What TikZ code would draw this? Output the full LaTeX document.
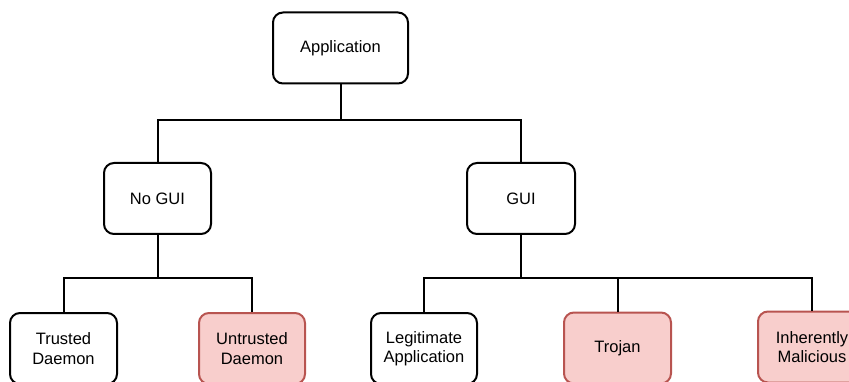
\documentclass[tikz,border=0pt]{standalone}
\usepackage{fontspec}
\setmainfont{Liberation Sans}
\definecolor{redfill}{HTML}{F8CECC}
\definecolor{redline}{HTML}{B85450}
\begin{document}
\begin{tikzpicture}[x=1pt,y=-1pt,
  box/.style={draw=black,fill=white,line width=2pt,rounded corners=10pt,
    minimum height=71pt,align=center,inner sep=2pt,
    font=\fontsize{16.5}{19.5}\selectfont},
  badbox/.style={box,draw=redline,fill=redfill},
  link/.style={draw=black,line width=2pt}]
\useasboundingbox (0,0) rectangle (849,382);
% tree nodes
\node[box,minimum width=135pt] (app) at (340.5,48) {Application};
\node[box,minimum width=107pt] (nogui) at (157.5,198.5) {No GUI};
\node[box,minimum width=108pt] (gui) at (521,198.5) {GUI};
\node[box,minimum width=107pt] (trusted) at (63.5,348.5) {Trusted\\Daemon};
\node[badbox,minimum width=106pt] (untrusted) at (252,348.5) {Untrusted\\Daemon};
\node[box,minimum width=106pt] (legit) at (424,348.5) {Legitimate\\Application};
\node[badbox,minimum width=107pt] (trojan) at (617.5,348) {Trojan};
\node[badbox,minimum width=108pt] (malicious) at (812,347) {Inherently\\Malicious};
% levels of the horizontal bars
\coordinate (bar1) at (0,120);
\coordinate (bar2) at (0,278);
% connectors
\draw[link] (app.south) -- (app.south |- bar1);
\draw[link] (nogui.north) |- (gui.north |- bar1) -- (gui.north);
\draw[link] (nogui.south) -- (nogui.south |- bar2);
\draw[link] (trusted.north) |- (untrusted.north |- bar2) -- (untrusted.north);
\draw[link] (gui.south) -- (gui.south |- bar2);
\draw[link] (legit.north) |- (malicious.north |- bar2) -- (malicious.north);
\draw[link] (trojan.north) -- (trojan.north |- bar2);
\end{tikzpicture}
\end{document}
